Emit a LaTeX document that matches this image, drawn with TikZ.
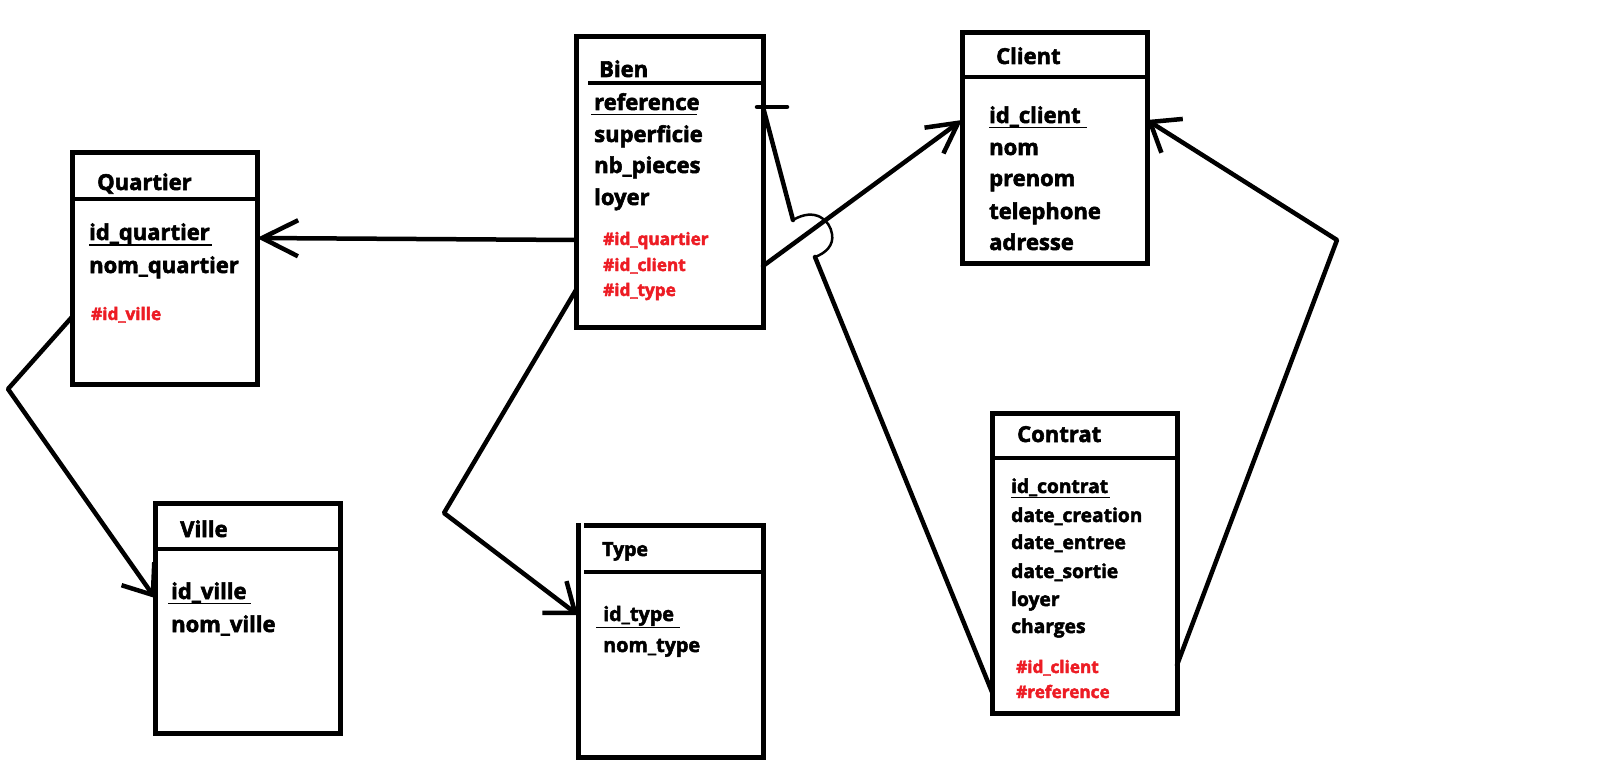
\documentclass[tikz,border=0pt]{standalone}
\usepackage{fontspec}
\setmainfont{Open Sans}[BoldFeatures={FakeBold=2.5}]
\usetikzlibrary{arrows.meta}
\definecolor{fkred}{RGB}{237,28,36}
\begin{document}
\begin{tikzpicture}[x=1pt,y=-1pt,
  box/.style={draw, line width=5pt, inner sep=0pt, outer sep=0pt},
  sepline/.style={line width=4.5pt},
  conn/.style={line width=4.5pt, line cap=round, line join=round},
  hopline/.style={line width=2.5pt},
  uline/.style={line width=1.6pt},
  tt/.style={anchor=base west, inner sep=0pt, font=\fontsize{22}{26}\selectfont\bfseries},
  tx/.style={anchor=base west, inner sep=0pt, font=\fontsize{22}{26}\selectfont\bfseries},
  txs/.style={anchor=base west, inner sep=0pt, font=\fontsize{19.2}{23}\selectfont\bfseries},
  fk/.style={anchor=base west, inner sep=0pt, text=fkred, font=\fontsize{17.2}{20}\selectfont\bfseries},
  barbA/.style={-{Straight Barb[length=36pt,width=36pt]}},
  barbB/.style={-{Straight Barb[length=26pt,width=40pt]}},
]
\useasboundingbox[fill=white] (0,0) rectangle (1618,765);

% ---------- entity boxes ----------
\node[box, minimum width=185pt, minimum height=231pt] (quartier) at (164.5,268.5) {};
\node[box, minimum width=187pt, minimum height=290pt] (bien) at (669.5,182) {};
\node[box, minimum width=185pt, minimum height=230pt] (client) at (1054.5,148) {};
\node[box, minimum width=185pt, minimum height=300pt] (contrat) at (1084.5,563) {};
\node[box, minimum width=185pt, minimum height=230pt] (ville) at (247.5,618) {};
\node[inner sep=0pt, outer sep=0pt, minimum width=185pt, minimum height=232pt] (type) at (670.5,641) {};
\draw[line width=5pt] ([xshift=6pt]type.north west) -- (type.north east) -- (type.south east) -- (type.south west) -- ([yshift=2pt]type.north west);

% separators
\draw[sepline] (quartier.west |- 0,199) -- (quartier.east |- 0,199);
\draw[sepline] (588,83) -- (bien.east |- 0,83);
\draw[sepline] (client.west |- 0,77) -- (client.east |- 0,77);
\draw[sepline] (contrat.west |- 0,458) -- (contrat.east |- 0,458);
\draw[sepline] (ville.west |- 0,549) -- (ville.east |- 0,549);
\draw[sepline] (584,572) -- (type.east |- 0,572);

% ---------- Quartier ----------
\node[tt] (q-t) at (97,190) {Quartier};
\node[tx] (q-1) at (89,240) {id\_quartier};
\node[tx] (q-2) at (89,273) {nom\_quartier};
\node[fk] (q-3) at (91,320) {\#id\_ville};
\draw[uline] (89,245) -- (212,245);

% ---------- Bien ----------
\node[tt] (b-t) at (599,77) {Bien};
\node[tx] (b-1) at (594,110) {reference};
\node[tx] (b-2) at (594,142) {superficie};
\node[tx] (b-3) at (594,173) {nb\_pieces};
\node[tx] (b-4) at (594,205) {loyer};
\node[fk] (b-5) at (603,245) {\#id\_quartier};
\node[fk] (b-6) at (603,271) {\#id\_client};
\node[fk] (b-7) at (603,296) {\#id\_type};
\draw[uline] (591,114.5) -- (697,114.5);

% ---------- Client ----------
\node[tt] (c-t) at (996,64) {Client};
\node[tx] (c-1) at (989,123) {id\_client};
\node[tx] (c-2) at (989,155) {nom};
\node[tx] (c-3) at (989,186) {prenom};
\node[tx] (c-4) at (989,219) {telephone};
\node[tx] (c-5) at (989,250) {adresse};
\draw[uline] (989,127.5) -- (1087,127.5);

% ---------- Contrat ----------
\node[tt] (k-t) at (1017,442) {Contrat};
\node[txs] (k-1) at (1011,493) {id\_contrat};
\node[txs] (k-2) at (1011,522) {date\_creation};
\node[txs] (k-3) at (1011,549) {date\_entree};
\node[txs] (k-4) at (1011,578) {date\_sortie};
\node[txs] (k-5) at (1011,606) {loyer};
\node[txs] (k-6) at (1011,633) {charges};
\node[fk] (k-7) at (1016,673) {\#id\_client};
\node[fk] (k-8) at (1016,698) {\#reference};
\draw[uline] (1011,497.5) -- (1110,497.5);

% ---------- Ville ----------
\node[tt] (v-t) at (180,537) {Ville};
\node[tx] (v-1) at (171,599) {id\_ville};
\node[tx] (v-2) at (171,632) {nom\_ville};
\draw[uline] (168,603.5) -- (251,603.5);

% ---------- Type ----------
\node[tt, font=\fontsize{19.5}{23}\selectfont\bfseries] (t-t) at (602,556) {Type};
\node[txs, font=\fontsize{19.8}{23}\selectfont\bfseries] (t-1) at (603,621) {id\_type};
\node[txs, font=\fontsize{19.8}{23}\selectfont\bfseries] (t-2) at (603,652) {nom\_type};
\draw[uline] (596,627.5) -- (680,627.5);

% ---------- connectors ----------
\coordinate (qv-corner) at (8,389);
\coordinate (bt-corner) at (444,513);
\coordinate (cc-corner) at (1337,240);
\coordinate (hop-a) at (815,257);
\coordinate (hop-b) at (793,220);
\coordinate (ref-end) at ([yshift=75pt]bien.east);

% Bien -> Quartier
\draw[conn, barbA] ([yshift=-58pt]bien.west) -- ([yshift=30.5pt]quartier.east);
% Quartier -> Ville
\draw[conn, barbB] ([yshift=-48.5pt]quartier.west) -- (qv-corner) -- ([yshift=20pt]ville.west);
% Bien -> Type
\draw[conn, barbB] ([yshift=-108pt]bien.west) -- (bt-corner) -- ([yshift=26pt]type.west);
% Bien -> Client
\draw[conn, -{Straight Barb[length=30pt,width=32pt]}] ([yshift=-84pt]bien.east) -- ([yshift=28pt]client.west);
% Contrat -> Client
\draw[conn, barbB] ([yshift=-102pt]contrat.east) -- (cc-corner) -- ([yshift=28pt]client.east);
% Contrat -> Bien (with hop over Bien -> Client)
\draw[conn] ([yshift=-129pt]contrat.west) -- (hop-a);
\draw[hopline] (hop-a) .. controls (826,253) and (834,245) .. (832,234)
  .. controls (830,220) and (815,207) .. (hop-b);
\draw[conn] (hop-b) -- (ref-end);
\draw[conn] ([xshift=-6pt]ref-end) -- ([xshift=24pt]ref-end);
\end{tikzpicture}
\end{document}
